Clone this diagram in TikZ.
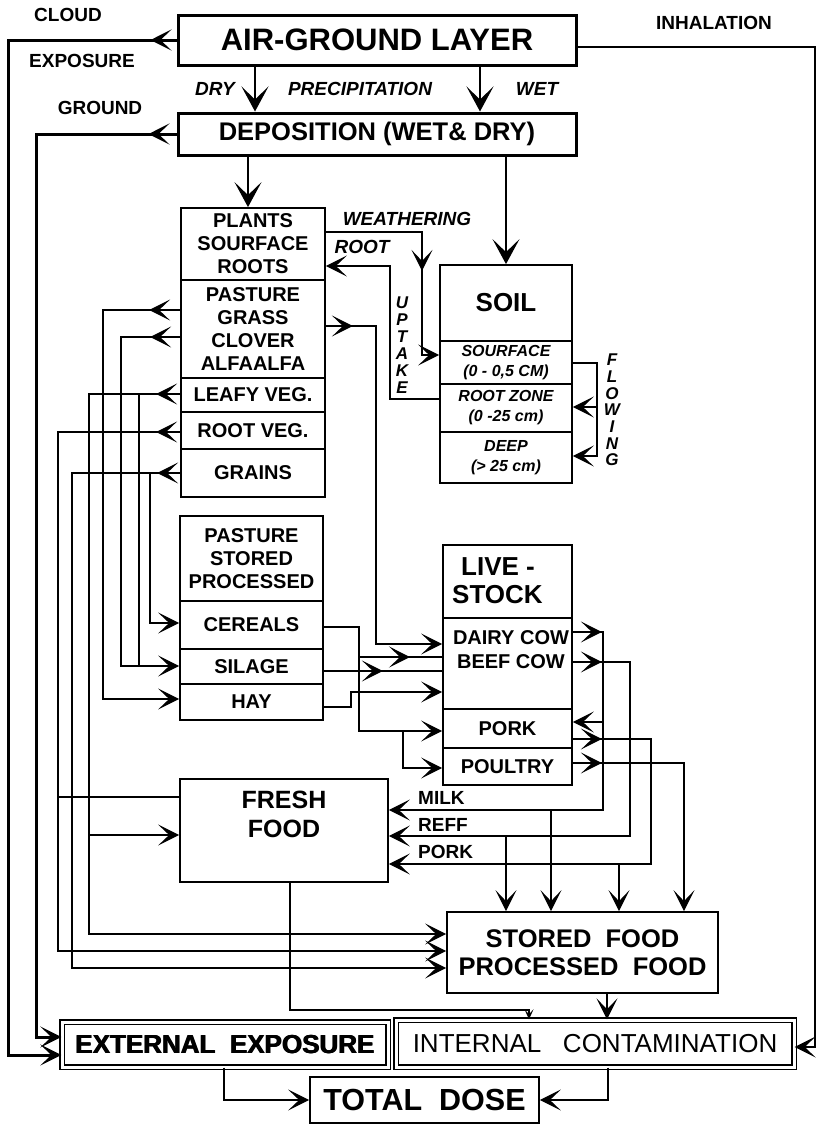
\documentclass[tikz,border=0pt]{standalone}
\usepackage{fontspec}
\setmainfont{Liberation Sans}
\usetikzlibrary{arrows.meta,decorations.markings}
\newcommand\heavytext[1]{\rlap{#1}\kern0.5pt\rlap{#1}\kern0.5pt#1}
\tikzset{
 arr/.style={-{Stealth[length=21pt,width=21pt,inset=11pt]}},
 bigarr/.style={-{Stealth[length=25pt,width=27pt,inset=13pt]}},
 smallarr/.style={-{Stealth[length=10pt,width=9pt,inset=5pt]}},
 conn/.style={line width=1.4pt},
 heavy/.style={line width=3pt},
 marr/.style={postaction={decorate,decoration={markings,mark=at position #1 with {\arrow{Stealth[length=21pt,width=21pt,inset=11pt]}}}}},
 bigbox/.style={draw, line width=3pt, inner sep=0pt, align=center},
 sec/.style={draw, line width=1.8pt, inner sep=0pt, align=center, minimum width=#1, font=\bfseries\fontsize{20}{23}\selectfont},
 isec/.style={draw, line width=1.8pt, inner sep=0pt, align=center, minimum width=132pt, font=\bfseries\itshape\fontsize{16}{20}\selectfont},
 dbl/.style={draw, double, double distance=3pt, line width=1.4pt, inner sep=0pt, align=center},
 lbl/.style={inner sep=0pt, font=\bfseries\fontsize{19}{22}\selectfont},
 ilbl/.style={inner sep=0pt, font=\bfseries\itshape\fontsize{19}{22}\selectfont},
}
\begin{document}
\begin{tikzpicture}[x=1pt,y=-1pt,line join=miter]
\useasboundingbox (0,0) rectangle (820,1125);
\fill[white] (0,0) rectangle (820,1125);

% ---------- boxes ----------
\node[bigbox, minimum width=398pt, minimum height=50pt, font=\bfseries\fontsize{31}{36}\selectfont] (air) at (377,40) {AIR-GROUND LAYER};
\node[bigbox, minimum width=398pt, minimum height=42pt, font=\bfseries\fontsize{25.5}{30}\selectfont] (dep) at (377,134) {DEPOSITION (WET\& DRY)};

\node[sec=144pt, minimum height=72pt] (pl) at (253,244) {PLANTS\\SOURFACE\\ROOTS};
\node[sec=144pt, minimum height=98pt] (past) at (253,329) {PASTURE\\GRASS\\CLOVER\\ALFAALFA};
\node[sec=144pt, minimum height=34pt] (leafy) at (253,395) {LEAFY VEG.};
\node[sec=144pt, minimum height=37pt] (rveg) at (253,430.5) {ROOT VEG.};
\node[sec=144pt, minimum height=48pt] (grain) at (253,473) {GRAINS};

\node[sec=132pt, minimum height=76pt, font=\bfseries\fontsize{26}{30}\selectfont] (soil) at (506,303) {SOIL};
\node[isec, minimum height=43pt] (surf) at (506,362.5) {SOURFACE\\(0 - 0,5 CM)};
\node[isec, minimum height=48pt] (rz) at (506,408) {ROOT ZONE\\(0 -25 cm)};
\node[isec, minimum height=51pt] (deep) at (506,457.5) {DEEP\\(> 25 cm)};

\node[sec=143pt, minimum height=85pt] (pss) at (251.5,558.5) {PASTURE\\STORED\\PROCESSED};
\node[sec=143pt, minimum height=48pt] (cer) at (251.5,625) {CEREALS};
\node[sec=143pt, minimum height=35pt] (sil) at (251.5,666.5) {SILAGE};
\node[sec=143pt, minimum height=36pt] (hay) at (251.5,702) {HAY};

\node[sec=129pt, minimum height=73pt] (live) at (507.5,581.5) {};
\node[sec=129pt, minimum height=91pt] (cows) at (507.5,663.5) {};
\node[sec=129pt, minimum height=39pt] (pork) at (507.5,728.5) {PORK};
\node[sec=129pt, minimum height=37pt] (poul) at (507.5,766.5) {POULTRY};
\node[inner sep=0pt, anchor=west, align=left, font=\bfseries\fontsize{26}{28}\selectfont] (livet) at (452,581) {\hspace*{9pt}LIVE -\\STOCK};
\node[inner sep=0pt, align=center, font=\bfseries\fontsize{20}{24}\selectfont] (cowt) at (511,650) {DAIRY COW\\BEEF COW};

\node[draw, line width=1.8pt, inner sep=0pt, align=center, minimum width=208pt, minimum height=103pt, font=\bfseries\fontsize{25}{29}\selectfont] (fresh) at (284,830.5) {FRESH\\FOOD\\[4pt]};
\node[draw, line width=1.8pt, inner sep=0pt, align=center, minimum width=271pt, minimum height=81pt, font=\bfseries\fontsize{25.5}{28}\selectfont] (sf) at (582.5,952.5) {STORED\ \ FOOD\\PROCESSED\ \ FOOD};
\node[dbl, minimum width=326pt, minimum height=45pt, font=\bfseries\fontsize{26}{30}\selectfont] (ext) at (225,1044.5) {\heavytext{EXTERNAL\ \ EXPOSURE}};
\node[dbl, minimum width=398pt, minimum height=47pt, font=\fontsize{26}{30}\selectfont] (int) at (595,1043.5) {INTERNAL\ \ \ CONTAMINATION};
\node[draw, line width=1.8pt, inner sep=0pt, minimum width=229pt, minimum height=46pt, font=\bfseries\fontsize{30.5}{34}\selectfont] (tot) at (424.5,1100) {TOTAL\ \ DOSE};

% ---------- labels ----------
\node[lbl] (cloudl) at (68,15) {CLOUD};
\node[lbl] (expl) at (82,61) {EXPOSURE};
\node[lbl] (inhl) at (714,23) {INHALATION};
\node[lbl] (grl) at (100,108) {GROUND};
\node[ilbl] (dryl) at (215,89) {DRY};
\node[ilbl] (precl) at (360,89) {PRECIPITATION};
\node[ilbl] (wetl) at (537,89) {WET};
\node[ilbl] (weal) at (407,219) {WEATHERING};
\node[ilbl] (rootl) at (362,247) {ROOT};
\node[inner sep=0pt, align=center, font=\bfseries\itshape\fontsize{17}{17}\selectfont] (uptl) at (402,345) {U\\P\\T\\A\\K\\E};
\node[inner sep=0pt, align=center, font=\bfseries\itshape\fontsize{17}{16.7}\selectfont] (flowl) at (612,410) {F\\L\\O\\W\\I\\N\\G};
\node[lbl, anchor=west] (milkl) at (418,798) {MILK};
\node[lbl, anchor=west] (reffl) at (418,825) {REFF};
\node[lbl, anchor=west] (porkl) at (418,852) {PORK};

% ---------- coordinates ----------
\coordinate (c1) at (8,40);   \coordinate (c2) at (8,1055);
\coordinate (g1) at (36,134); \coordinate (g2) at (36,1037);
\coordinate (i1) at (815,47); \coordinate (i2) at (815,1047);
\coordinate (d1) at (255,0);  \coordinate (w1) at (480,0); \coordinate (dp) at (248,0);
\coordinate (we1) at (422,232); \coordinate (we2) at (422,355);
\coordinate (ru1) at (390,399); \coordinate (ru2) at (390,266);
\coordinate (f1) at (597,363); \coordinate (f2) at (597,456); \coordinate (f3) at (597,407);
\coordinate (p1) at (103,310); \coordinate (p2) at (103,699);
\coordinate (q1) at (121,337); \coordinate (q2) at (121,666);
\coordinate (l1) at (89,394); \coordinate (l2) at (89,934); \coordinate (l3) at (89,835);
\coordinate (lb1) at (139,394); \coordinate (lb2) at (139,666);
\coordinate (r1) at (58,432); \coordinate (r2) at (58,951); \coordinate (r3) at (58,797);
\coordinate (gr1) at (72,473); \coordinate (gr2) at (72,968);
\coordinate (gb1) at (150,473); \coordinate (gb2) at (150,623);
\coordinate (pr1) at (376,326); \coordinate (pr2) at (376,644);
\coordinate (ce1) at (359,627); \coordinate (ce2) at (359,731); \coordinate (ce3) at (359,657);
\coordinate (ce4) at (403,731); \coordinate (ce5) at (403,768);
\coordinate (si1) at (400,671);
\coordinate (h1) at (351,707); \coordinate (h2) at (351,692);
\coordinate (da1) at (603,632); \coordinate (da2) at (603,810); \coordinate (da3) at (603,722); \coordinate (da4) at (551,810);
\coordinate (be1) at (630,662); \coordinate (be2) at (630,836); \coordinate (be3) at (506,836);
\coordinate (po1) at (651,739); \coordinate (po2) at (651,864); \coordinate (po3) at (619,864);
\coordinate (pu1) at (684,763);
\coordinate (fi1) at (290,1010); \coordinate (fi2) at (529,1010);
\coordinate (s1) at (607,0);
\coordinate (et1) at (224,1100); \coordinate (it1) at (608,1100);

% ---------- connectors ----------
\draw[heavy, marr=26pt, arr] (air.west) -- (c1) -- (c2) -- (c2 -| ext.west);
\draw[heavy, marr=28pt, arr] (dep.west) -- (g1) -- (g2) -- (g2 -| ext.west);
\draw[line width=2pt, arr] (air.east |- i1) -- (i1) -- (i2) -- (i2 -| int.east);
\draw[conn, bigarr] (air.south -| d1) -- (dep.north -| d1);
\draw[conn, bigarr] (air.south -| w1) -- (dep.north -| w1);
\draw[conn, bigarr] (dep.south -| dp) -- (pl.north -| dp);
\draw[conn, bigarr] (dep.south -| soil.north) -- (soil.north);

\draw[conn, marr=135pt, arr] (pl.east |- we1) -- (we1) -- (we2) -- (we2 -| surf.west);
\draw[conn, arr] (rz.west |- ru1) -- (ru1) -- (ru2) -- (ru2 -| pl.east);
\draw[conn, arr] (surf.east |- f1) -- (f1) -- (f2) -- (f2 -| deep.east);
\draw[conn, arr] (f3) -- (f3 -| rz.east);

\draw[conn, marr=31pt, arr] (past.west |- p1) -- (p1) -- (p2) -- (p2 -| hay.west);
\draw[conn, marr=30pt, arr] (past.west |- q1) -- (q1) -- (q2) -- (q2 -| sil.west);
\draw[conn, marr=24pt, arr] (leafy.west |- l1) -- (l1) -- (l2) -- (l2 -| sf.west);
\draw[conn, arr] (l3) -- (l3 -| fresh.west);
\draw[conn] (lb1) -- (lb2);
\draw[conn, marr=24pt, arr] (rveg.west |- r1) -- (r1) -- (r2) -- (r2 -| sf.west);
\draw[line width=2.4pt] (r3) -- (r3 -| fresh.west);
\draw[conn, marr=23pt, arr] (grain.west |- gr1) -- (gr1) -- (gr2) -- (gr2 -| sf.west);
\draw[conn, arr] (gb1) -- (gb2) -- (gb2 -| cer.west);

\draw[conn, marr=27pt, arr] (past.east |- pr1) -- (pr1) -- (pr2) -- (pr2 -| cows.west);
\draw[conn, arr] (cer.east |- ce1) -- (ce1) -- (ce2) -- (ce2 -| pork.west);
\draw[conn, marr=51pt] (ce3) -- (ce3 -| cows.west);
\draw[conn, arr] (ce4) -- (ce5) -- (ce5 -| poul.west);
\draw[conn, marr=59pt] (sil.east |- si1) -- (si1 -| cows.west);
\draw[conn, arr] (hay.east |- h1) -- (h1) -- (h2) -- (h2 -| cows.west);

\draw[conn, marr=29pt, arr] (cows.east |- da1) -- (da1) -- (da2) -- (da2 -| fresh.east);
\draw[conn, arr] (da3) -- (da3 -| pork.east);
\draw[conn, arr] (da4) -- (da4 |- sf.north);
\draw[conn, marr=29pt, arr] (cows.east |- be1) -- (be1) -- (be2) -- (be2 -| fresh.east);
\draw[conn, arr] (be3) -- (be3 |- sf.north);
\draw[conn, marr=29pt, arr] (pork.east |- po1) -- (po1) -- (po2) -- (po2 -| fresh.east);
\draw[conn, arr] (po3) -- (po3 |- sf.north);
\draw[conn, marr=29pt, arr] (poul.east |- pu1) -- (pu1) -- (pu1 |- sf.north);

\draw[conn, smallarr] (fresh.south -| fi1) -- (fi1) -- (fi2) -- (fi2 |- int.north);
\draw[conn, arr] (sf.south -| s1) -- (int.north -| s1);
\draw[conn, arr] (ext.south -| et1) -- (et1) -- (tot.west);
\draw[conn, arr] (int.south -| it1) -- (it1) -- (tot.east);
\end{tikzpicture}
\end{document}
